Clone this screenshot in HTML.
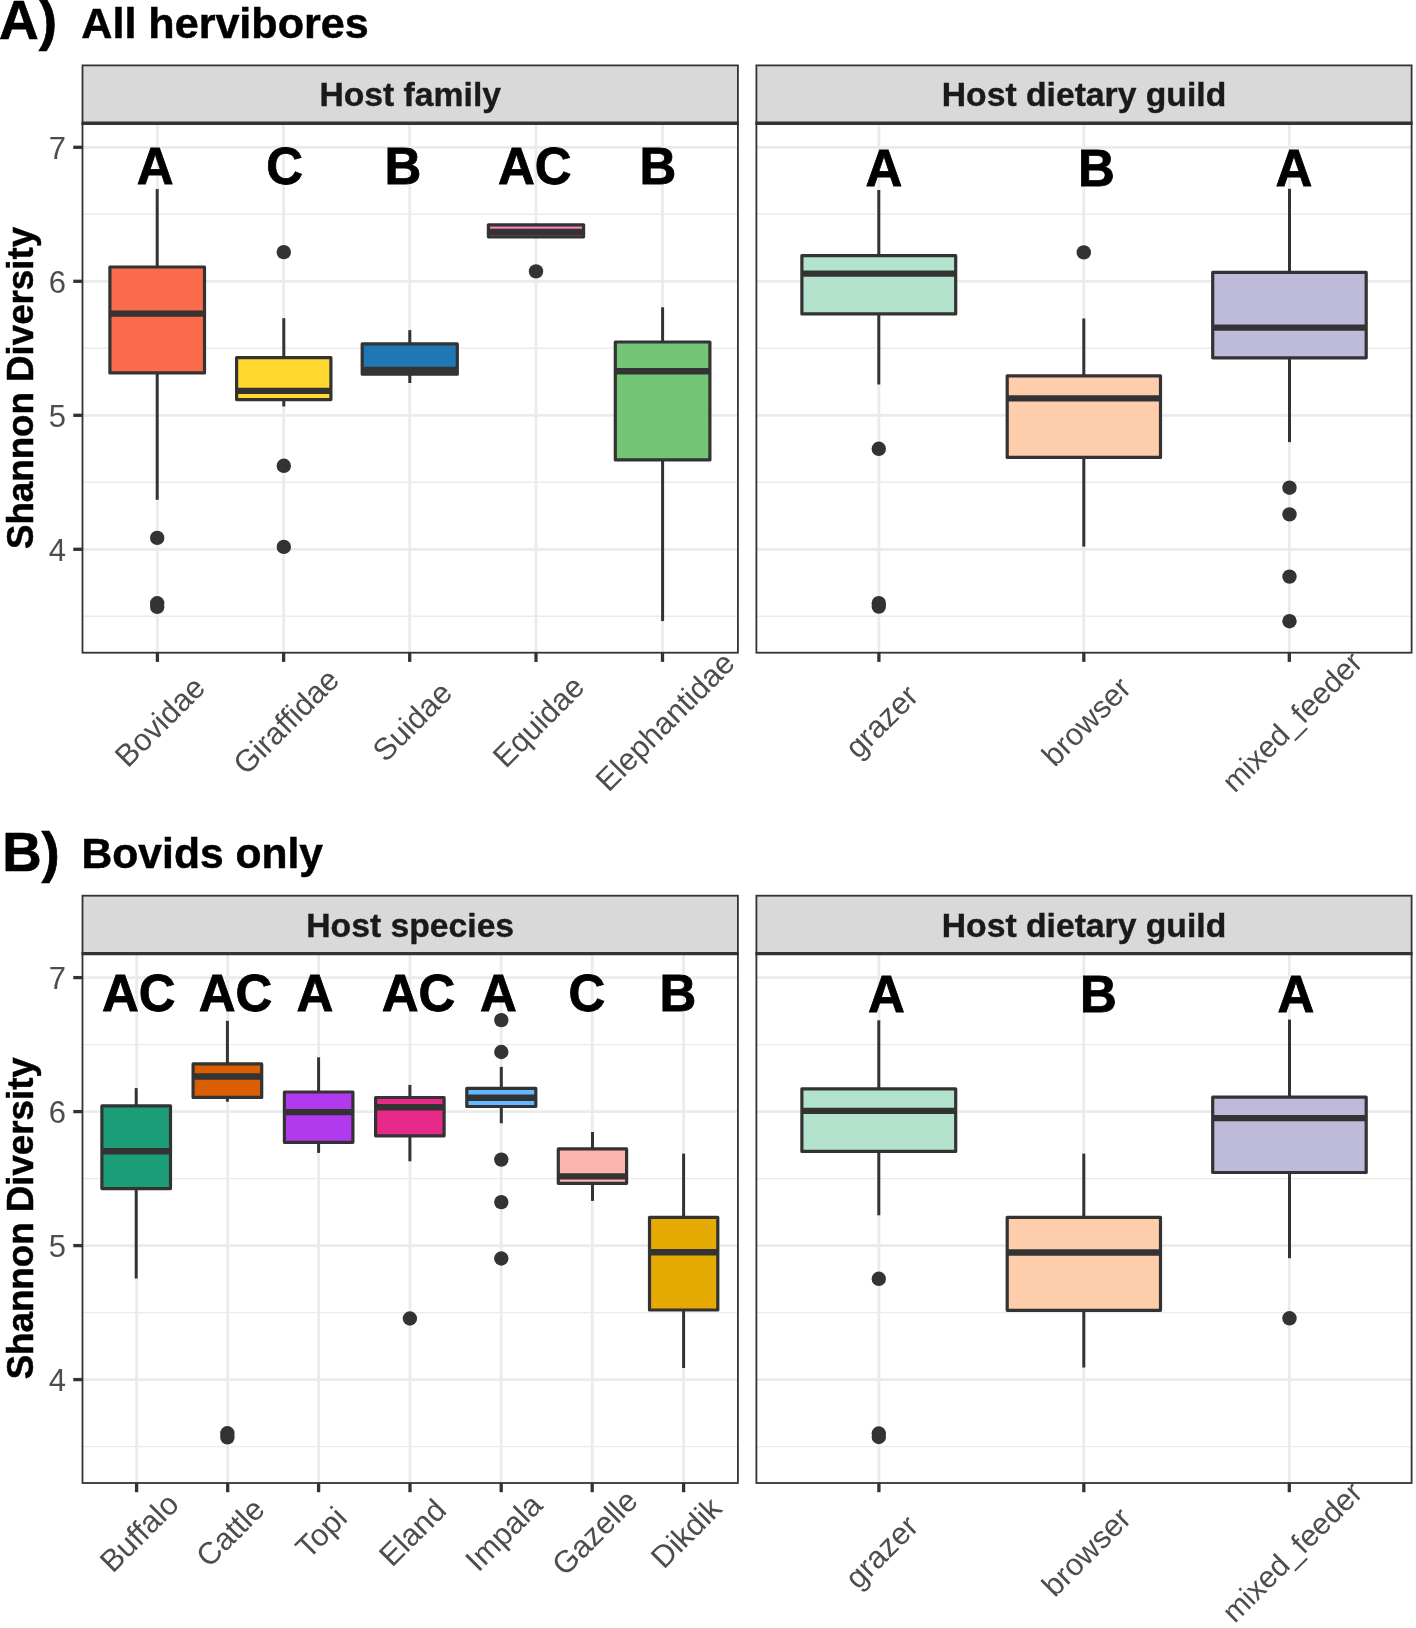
<!DOCTYPE html>
<html lang="en">
<head>
<meta charset="utf-8">
<title>Shannon Diversity boxplots</title>
<style>html,body{margin:0;padding:0;background:#fff}body{width:1416px;height:1628px;overflow:hidden}svg{display:block;will-change:transform}</style>
</head>
<body>
<svg width="1416" height="1628" viewBox="0 0 1416 1628" font-family='"Liberation Sans", sans-serif'>
<rect width="1416" height="1628" fill="#fff"/>
<text x="-1.0" y="38.6" font-size="55" font-weight="bold" fill="#000" stroke="#000" stroke-width="0.7">A)</text>
<text x="81.3" y="38.1" font-size="43.1" font-weight="bold" fill="#000" stroke="#000" stroke-width="0.5">All hervibores</text>
<text x="2.2" y="871.3" font-size="54.6" font-weight="bold" fill="#000" stroke="#000" stroke-width="0.7">B)</text>
<text x="81.6" y="868.2" font-size="42.6" font-weight="bold" fill="#000" stroke="#000" stroke-width="0.5">Bovids only</text>
<text transform="translate(33.2 388.0) rotate(-90)" font-size="36.7" font-weight="bold" fill="#000" stroke="#000" stroke-width="0.5" text-anchor="middle">Shannon Diversity</text>
<text transform="translate(33.2 1218.3) rotate(-90)" font-size="36.7" font-weight="bold" fill="#000" stroke="#000" stroke-width="0.5" text-anchor="middle">Shannon Diversity</text>
<rect x="82.5" y="123.3" width="655.4" height="529.4" fill="#fff"/>
<line x1="82.5" x2="737.9" y1="214.3" y2="214.3" stroke="#ebebeb" stroke-width="1.4"/>
<line x1="82.5" x2="737.9" y1="348.3" y2="348.3" stroke="#ebebeb" stroke-width="1.4"/>
<line x1="82.5" x2="737.9" y1="482.3" y2="482.3" stroke="#ebebeb" stroke-width="1.4"/>
<line x1="82.5" x2="737.9" y1="616.3" y2="616.3" stroke="#ebebeb" stroke-width="1.4"/>
<line x1="82.5" x2="737.9" y1="147.3" y2="147.3" stroke="#ebebeb" stroke-width="2.8"/>
<line x1="82.5" x2="737.9" y1="281.3" y2="281.3" stroke="#ebebeb" stroke-width="2.8"/>
<line x1="82.5" x2="737.9" y1="415.3" y2="415.3" stroke="#ebebeb" stroke-width="2.8"/>
<line x1="82.5" x2="737.9" y1="549.3" y2="549.3" stroke="#ebebeb" stroke-width="2.8"/>
<line x1="157.4" x2="157.4" y1="123.3" y2="652.7" stroke="#ebebeb" stroke-width="2.8"/>
<line x1="283.6" x2="283.6" y1="123.3" y2="652.7" stroke="#ebebeb" stroke-width="2.8"/>
<line x1="409.7" x2="409.7" y1="123.3" y2="652.7" stroke="#ebebeb" stroke-width="2.8"/>
<line x1="536.0" x2="536.0" y1="123.3" y2="652.7" stroke="#ebebeb" stroke-width="2.8"/>
<line x1="662.5" x2="662.5" y1="123.3" y2="652.7" stroke="#ebebeb" stroke-width="2.8"/>
<rect x="756.4" y="123.3" width="655.2" height="529.4" fill="#fff"/>
<line x1="756.4" x2="1411.6" y1="214.3" y2="214.3" stroke="#ebebeb" stroke-width="1.4"/>
<line x1="756.4" x2="1411.6" y1="348.3" y2="348.3" stroke="#ebebeb" stroke-width="1.4"/>
<line x1="756.4" x2="1411.6" y1="482.3" y2="482.3" stroke="#ebebeb" stroke-width="1.4"/>
<line x1="756.4" x2="1411.6" y1="616.3" y2="616.3" stroke="#ebebeb" stroke-width="1.4"/>
<line x1="756.4" x2="1411.6" y1="147.3" y2="147.3" stroke="#ebebeb" stroke-width="2.8"/>
<line x1="756.4" x2="1411.6" y1="281.3" y2="281.3" stroke="#ebebeb" stroke-width="2.8"/>
<line x1="756.4" x2="1411.6" y1="415.3" y2="415.3" stroke="#ebebeb" stroke-width="2.8"/>
<line x1="756.4" x2="1411.6" y1="549.3" y2="549.3" stroke="#ebebeb" stroke-width="2.8"/>
<line x1="878.9" x2="878.9" y1="123.3" y2="652.7" stroke="#ebebeb" stroke-width="2.8"/>
<line x1="1083.8" x2="1083.8" y1="123.3" y2="652.7" stroke="#ebebeb" stroke-width="2.8"/>
<line x1="1289.3" x2="1289.3" y1="123.3" y2="652.7" stroke="#ebebeb" stroke-width="2.8"/>
<circle cx="157.2" cy="537.9" r="7.2" fill="#333333"/>
<circle cx="157.2" cy="603.3" r="7.2" fill="#333333"/>
<circle cx="157.2" cy="606.8" r="7.2" fill="#333333"/>
<line x1="157.2" x2="157.2" y1="189.1" y2="267.0" stroke="#333333" stroke-width="3"/>
<line x1="157.2" x2="157.2" y1="372.9" y2="499.8" stroke="#333333" stroke-width="3"/>
<rect x="109.9" y="267.0" width="94.6" height="105.9" fill="#fb6a4a" stroke="#333333" stroke-width="3.2" stroke-linejoin="round"/>
<line x1="109.9" x2="204.5" y1="313.6" y2="313.6" stroke="#333333" stroke-width="6.4"/>
<circle cx="283.8" cy="252.1" r="7.2" fill="#333333"/>
<circle cx="283.8" cy="465.8" r="7.2" fill="#333333"/>
<circle cx="283.8" cy="546.9" r="7.2" fill="#333333"/>
<line x1="283.8" x2="283.8" y1="318.2" y2="357.6" stroke="#333333" stroke-width="3"/>
<line x1="283.8" x2="283.8" y1="399.6" y2="406.5" stroke="#333333" stroke-width="3"/>
<rect x="236.6" y="357.6" width="94.3" height="42.0" fill="#ffd92f" stroke="#333333" stroke-width="3.2" stroke-linejoin="round"/>
<line x1="236.6" x2="330.9" y1="390.9" y2="390.9" stroke="#333333" stroke-width="6.4"/>
<line x1="409.8" x2="409.8" y1="330.1" y2="343.9" stroke="#333333" stroke-width="3"/>
<line x1="409.8" x2="409.8" y1="374.2" y2="383.0" stroke="#333333" stroke-width="3"/>
<rect x="362.2" y="343.9" width="95.1" height="30.3" fill="#1f78b4" stroke="#333333" stroke-width="3.2" stroke-linejoin="round"/>
<line x1="362.2" x2="457.3" y1="369.9" y2="369.9" stroke="#333333" stroke-width="6.4"/>
<circle cx="536.0" cy="271.4" r="7.2" fill="#333333"/>
<rect x="488.4" y="224.8" width="95.2" height="12.0" fill="#f781bf" stroke="#333333" stroke-width="3.2" stroke-linejoin="round"/>
<line x1="488.4" x2="583.6" y1="232.0" y2="232.0" stroke="#333333" stroke-width="6.4"/>
<line x1="662.6" x2="662.6" y1="307.3" y2="342.0" stroke="#333333" stroke-width="3"/>
<line x1="662.6" x2="662.6" y1="459.9" y2="621.1" stroke="#333333" stroke-width="3"/>
<rect x="615.3" y="342.0" width="94.6" height="117.9" fill="#74c476" stroke="#333333" stroke-width="3.2" stroke-linejoin="round"/>
<line x1="615.3" x2="709.9" y1="371.2" y2="371.2" stroke="#333333" stroke-width="6.4"/>
<circle cx="878.8" cy="448.8" r="7.2" fill="#333333"/>
<circle cx="878.8" cy="603.2" r="7.2" fill="#333333"/>
<circle cx="878.8" cy="606.6" r="7.2" fill="#333333"/>
<line x1="878.8" x2="878.8" y1="190.0" y2="255.6" stroke="#333333" stroke-width="3"/>
<line x1="878.8" x2="878.8" y1="313.9" y2="384.5" stroke="#333333" stroke-width="3"/>
<rect x="801.9" y="255.6" width="153.8" height="58.3" fill="#b3e2cd" stroke="#333333" stroke-width="3.2" stroke-linejoin="round"/>
<line x1="801.9" x2="955.7" y1="273.6" y2="273.6" stroke="#333333" stroke-width="6.4"/>
<circle cx="1083.8" cy="252.4" r="7.2" fill="#333333"/>
<line x1="1083.8" x2="1083.8" y1="318.5" y2="375.9" stroke="#333333" stroke-width="3"/>
<line x1="1083.8" x2="1083.8" y1="457.4" y2="546.6" stroke="#333333" stroke-width="3"/>
<rect x="1007.2" y="375.9" width="153.3" height="81.5" fill="#fdcdac" stroke="#333333" stroke-width="3.2" stroke-linejoin="round"/>
<line x1="1007.2" x2="1160.5" y1="398.4" y2="398.4" stroke="#333333" stroke-width="6.4"/>
<circle cx="1289.5" cy="487.7" r="7.2" fill="#333333"/>
<circle cx="1289.5" cy="514.4" r="7.2" fill="#333333"/>
<circle cx="1289.5" cy="576.6" r="7.2" fill="#333333"/>
<circle cx="1289.5" cy="621.2" r="7.2" fill="#333333"/>
<line x1="1289.5" x2="1289.5" y1="188.8" y2="272.4" stroke="#333333" stroke-width="3"/>
<line x1="1289.5" x2="1289.5" y1="357.8" y2="442.1" stroke="#333333" stroke-width="3"/>
<rect x="1212.7" y="272.4" width="153.5" height="85.4" fill="#bebada" stroke="#333333" stroke-width="3.2" stroke-linejoin="round"/>
<line x1="1212.7" x2="1366.2" y1="327.6" y2="327.6" stroke="#333333" stroke-width="6.4"/>
<text x="155.2" y="183.6" font-size="51" font-weight="bold" fill="#000" stroke="#000" stroke-width="0.8" text-anchor="middle">A</text>
<text x="284.6" y="183.6" font-size="51" font-weight="bold" fill="#000" stroke="#000" stroke-width="0.8" text-anchor="middle">C</text>
<text x="403.0" y="183.6" font-size="51" font-weight="bold" fill="#000" stroke="#000" stroke-width="0.8" text-anchor="middle">B</text>
<text x="534.8" y="183.6" font-size="51" font-weight="bold" fill="#000" stroke="#000" stroke-width="0.8" text-anchor="middle">AC</text>
<text x="657.9" y="183.6" font-size="51" font-weight="bold" fill="#000" stroke="#000" stroke-width="0.8" text-anchor="middle">B</text>
<text x="884.0" y="185.7" font-size="51" font-weight="bold" fill="#000" stroke="#000" stroke-width="0.8" text-anchor="middle">A</text>
<text x="1096.4" y="185.7" font-size="51" font-weight="bold" fill="#000" stroke="#000" stroke-width="0.8" text-anchor="middle">B</text>
<text x="1293.8" y="185.7" font-size="51" font-weight="bold" fill="#000" stroke="#000" stroke-width="0.8" text-anchor="middle">A</text>
<rect x="82.5" y="65.4" width="655.4" height="57.9" fill="#d9d9d9" stroke="#333333" stroke-width="1.8"/>
<text x="410.2" y="106.3" font-size="33.7" font-weight="bold" fill="#1a1a1a" stroke="#1a1a1a" stroke-width="0.4" text-anchor="middle">Host family</text>
<rect x="82.5" y="123.3" width="655.4" height="529.4" fill="none" stroke="#333333" stroke-width="1.8"/>
<line x1="81.6" x2="738.8" y1="123.3" y2="123.3" stroke="#333333" stroke-width="3.4"/>
<line x1="157.4" x2="157.4" y1="652.7" y2="661.9" stroke="#333333" stroke-width="3.3"/>
<line x1="283.6" x2="283.6" y1="652.7" y2="661.9" stroke="#333333" stroke-width="3.3"/>
<line x1="409.7" x2="409.7" y1="652.7" y2="661.9" stroke="#333333" stroke-width="3.3"/>
<line x1="536.0" x2="536.0" y1="652.7" y2="661.9" stroke="#333333" stroke-width="3.3"/>
<line x1="662.5" x2="662.5" y1="652.7" y2="661.9" stroke="#333333" stroke-width="3.3"/>
<line x1="73.3" x2="82.5" y1="147.3" y2="147.3" stroke="#333333" stroke-width="3.3"/>
<text x="66.0" y="158.5" font-size="31" fill="#4d4d4d" text-anchor="end">7</text>
<line x1="73.3" x2="82.5" y1="281.3" y2="281.3" stroke="#333333" stroke-width="3.3"/>
<text x="66.0" y="292.5" font-size="31" fill="#4d4d4d" text-anchor="end">6</text>
<line x1="73.3" x2="82.5" y1="415.3" y2="415.3" stroke="#333333" stroke-width="3.3"/>
<text x="66.0" y="426.5" font-size="31" fill="#4d4d4d" text-anchor="end">5</text>
<line x1="73.3" x2="82.5" y1="549.3" y2="549.3" stroke="#333333" stroke-width="3.3"/>
<text x="66.0" y="560.5" font-size="31" fill="#4d4d4d" text-anchor="end">4</text>
<rect x="756.4" y="65.4" width="655.2" height="57.9" fill="#d9d9d9" stroke="#333333" stroke-width="1.8"/>
<text x="1084.0" y="106.3" font-size="33.7" font-weight="bold" fill="#1a1a1a" stroke="#1a1a1a" stroke-width="0.4" text-anchor="middle">Host dietary guild</text>
<rect x="756.4" y="123.3" width="655.2" height="529.4" fill="none" stroke="#333333" stroke-width="1.8"/>
<line x1="755.5" x2="1412.5" y1="123.3" y2="123.3" stroke="#333333" stroke-width="3.4"/>
<line x1="878.9" x2="878.9" y1="652.7" y2="661.9" stroke="#333333" stroke-width="3.3"/>
<line x1="1083.8" x2="1083.8" y1="652.7" y2="661.9" stroke="#333333" stroke-width="3.3"/>
<line x1="1289.3" x2="1289.3" y1="652.7" y2="661.9" stroke="#333333" stroke-width="3.3"/>
<text transform="translate(159.8 721.4) rotate(-45)" font-size="31" fill="#4d4d4d" text-anchor="middle" dy="10.8">Bovidae</text>
<text transform="translate(286.0 721.4) rotate(-45)" font-size="31" fill="#4d4d4d" text-anchor="middle" dy="10.8">Giraffidae</text>
<text transform="translate(412.1 721.4) rotate(-45)" font-size="31" fill="#4d4d4d" text-anchor="middle" dy="10.8">Suidae</text>
<text transform="translate(538.4 721.4) rotate(-45)" font-size="31" fill="#4d4d4d" text-anchor="middle" dy="10.8">Equidae</text>
<text transform="translate(664.9 721.4) rotate(-45)" font-size="31" fill="#4d4d4d" text-anchor="middle" dy="10.8">Elephantidae</text>
<text transform="translate(881.3 721.4) rotate(-45)" font-size="31" fill="#4d4d4d" text-anchor="middle" dy="10.8">grazer</text>
<text transform="translate(1086.2 721.4) rotate(-45)" font-size="31" fill="#4d4d4d" text-anchor="middle" dy="10.8">browser</text>
<text transform="translate(1291.7 721.4) rotate(-45)" font-size="30.2" fill="#4d4d4d" text-anchor="middle" dy="10.8">mixed_feeder</text>
<rect x="82.5" y="953.5999999999999" width="655.4" height="529.4" fill="#fff"/>
<line x1="82.5" x2="737.9" y1="1044.6" y2="1044.6" stroke="#ebebeb" stroke-width="1.4"/>
<line x1="82.5" x2="737.9" y1="1178.6" y2="1178.6" stroke="#ebebeb" stroke-width="1.4"/>
<line x1="82.5" x2="737.9" y1="1312.6" y2="1312.6" stroke="#ebebeb" stroke-width="1.4"/>
<line x1="82.5" x2="737.9" y1="1446.6" y2="1446.6" stroke="#ebebeb" stroke-width="1.4"/>
<line x1="82.5" x2="737.9" y1="977.6" y2="977.6" stroke="#ebebeb" stroke-width="2.8"/>
<line x1="82.5" x2="737.9" y1="1111.6" y2="1111.6" stroke="#ebebeb" stroke-width="2.8"/>
<line x1="82.5" x2="737.9" y1="1245.6" y2="1245.6" stroke="#ebebeb" stroke-width="2.8"/>
<line x1="82.5" x2="737.9" y1="1379.6" y2="1379.6" stroke="#ebebeb" stroke-width="2.8"/>
<line x1="136.6" x2="136.6" y1="953.5999999999999" y2="1483.0" stroke="#ebebeb" stroke-width="2.8"/>
<line x1="227.7" x2="227.7" y1="953.5999999999999" y2="1483.0" stroke="#ebebeb" stroke-width="2.8"/>
<line x1="318.6" x2="318.6" y1="953.5999999999999" y2="1483.0" stroke="#ebebeb" stroke-width="2.8"/>
<line x1="410.0" x2="410.0" y1="953.5999999999999" y2="1483.0" stroke="#ebebeb" stroke-width="2.8"/>
<line x1="501.2" x2="501.2" y1="953.5999999999999" y2="1483.0" stroke="#ebebeb" stroke-width="2.8"/>
<line x1="592.2" x2="592.2" y1="953.5999999999999" y2="1483.0" stroke="#ebebeb" stroke-width="2.8"/>
<line x1="683.6" x2="683.6" y1="953.5999999999999" y2="1483.0" stroke="#ebebeb" stroke-width="2.8"/>
<rect x="756.4" y="953.5999999999999" width="655.2" height="529.4" fill="#fff"/>
<line x1="756.4" x2="1411.6" y1="1044.6" y2="1044.6" stroke="#ebebeb" stroke-width="1.4"/>
<line x1="756.4" x2="1411.6" y1="1178.6" y2="1178.6" stroke="#ebebeb" stroke-width="1.4"/>
<line x1="756.4" x2="1411.6" y1="1312.6" y2="1312.6" stroke="#ebebeb" stroke-width="1.4"/>
<line x1="756.4" x2="1411.6" y1="1446.6" y2="1446.6" stroke="#ebebeb" stroke-width="1.4"/>
<line x1="756.4" x2="1411.6" y1="977.6" y2="977.6" stroke="#ebebeb" stroke-width="2.8"/>
<line x1="756.4" x2="1411.6" y1="1111.6" y2="1111.6" stroke="#ebebeb" stroke-width="2.8"/>
<line x1="756.4" x2="1411.6" y1="1245.6" y2="1245.6" stroke="#ebebeb" stroke-width="2.8"/>
<line x1="756.4" x2="1411.6" y1="1379.6" y2="1379.6" stroke="#ebebeb" stroke-width="2.8"/>
<line x1="878.9" x2="878.9" y1="953.5999999999999" y2="1483.0" stroke="#ebebeb" stroke-width="2.8"/>
<line x1="1083.8" x2="1083.8" y1="953.5999999999999" y2="1483.0" stroke="#ebebeb" stroke-width="2.8"/>
<line x1="1289.3" x2="1289.3" y1="953.5999999999999" y2="1483.0" stroke="#ebebeb" stroke-width="2.8"/>
<line x1="136.2" x2="136.2" y1="1088.1" y2="1105.9" stroke="#333333" stroke-width="3"/>
<line x1="136.2" x2="136.2" y1="1188.6" y2="1278.5" stroke="#333333" stroke-width="3"/>
<rect x="101.9" y="1105.9" width="68.6" height="82.7" fill="#1b9e77" stroke="#333333" stroke-width="3.2" stroke-linejoin="round"/>
<line x1="101.9" x2="170.5" y1="1151.2" y2="1151.2" stroke="#333333" stroke-width="6.4"/>
<circle cx="227.4" cy="1433.3" r="7.2" fill="#333333"/>
<circle cx="227.4" cy="1437.3" r="7.2" fill="#333333"/>
<line x1="227.4" x2="227.4" y1="1020.8" y2="1063.9" stroke="#333333" stroke-width="3"/>
<line x1="227.4" x2="227.4" y1="1097.4" y2="1101.7" stroke="#333333" stroke-width="3"/>
<rect x="193.1" y="1063.9" width="68.6" height="33.5" fill="#d95f02" stroke="#333333" stroke-width="3.2" stroke-linejoin="round"/>
<line x1="193.1" x2="261.7" y1="1076.5" y2="1076.5" stroke="#333333" stroke-width="6.4"/>
<line x1="318.6" x2="318.6" y1="1057.3" y2="1092.0" stroke="#333333" stroke-width="3"/>
<line x1="318.6" x2="318.6" y1="1142.3" y2="1152.9" stroke="#333333" stroke-width="3"/>
<rect x="284.4" y="1092.0" width="68.5" height="50.3" fill="#b23aee" stroke="#333333" stroke-width="3.2" stroke-linejoin="round"/>
<line x1="284.4" x2="352.9" y1="1112.1" y2="1112.1" stroke="#333333" stroke-width="6.4"/>
<circle cx="409.9" cy="1318.5" r="7.2" fill="#333333"/>
<line x1="409.9" x2="409.9" y1="1084.9" y2="1097.5" stroke="#333333" stroke-width="3"/>
<line x1="409.9" x2="409.9" y1="1135.8" y2="1161.3" stroke="#333333" stroke-width="3"/>
<rect x="375.6" y="1097.5" width="68.5" height="38.3" fill="#e7298a" stroke="#333333" stroke-width="3.2" stroke-linejoin="round"/>
<line x1="375.6" x2="444.1" y1="1107.3" y2="1107.3" stroke="#333333" stroke-width="6.4"/>
<circle cx="501.3" cy="1020.1" r="7.2" fill="#333333"/>
<circle cx="501.3" cy="1052.0" r="7.2" fill="#333333"/>
<circle cx="501.3" cy="1159.6" r="7.2" fill="#333333"/>
<circle cx="501.3" cy="1202.1" r="7.2" fill="#333333"/>
<circle cx="501.3" cy="1258.5" r="7.2" fill="#333333"/>
<line x1="501.3" x2="501.3" y1="1066.9" y2="1088.4" stroke="#333333" stroke-width="3"/>
<line x1="501.3" x2="501.3" y1="1106.5" y2="1123.3" stroke="#333333" stroke-width="3"/>
<rect x="466.8" y="1088.4" width="69.0" height="18.1" fill="#63b8ff" stroke="#333333" stroke-width="3.2" stroke-linejoin="round"/>
<line x1="466.8" x2="535.8" y1="1097.7" y2="1097.7" stroke="#333333" stroke-width="6.4"/>
<line x1="592.5" x2="592.5" y1="1132.0" y2="1148.9" stroke="#333333" stroke-width="3"/>
<line x1="592.5" x2="592.5" y1="1183.3" y2="1200.9" stroke="#333333" stroke-width="3"/>
<rect x="558.3" y="1148.9" width="68.3" height="34.4" fill="#fbb4ae" stroke="#333333" stroke-width="3.2" stroke-linejoin="round"/>
<line x1="558.3" x2="626.6" y1="1176.4" y2="1176.4" stroke="#333333" stroke-width="6.4"/>
<line x1="683.6" x2="683.6" y1="1153.6" y2="1217.3" stroke="#333333" stroke-width="3"/>
<line x1="683.6" x2="683.6" y1="1310.0" y2="1368.0" stroke="#333333" stroke-width="3"/>
<rect x="649.5" y="1217.3" width="68.3" height="92.7" fill="#e6ab02" stroke="#333333" stroke-width="3.2" stroke-linejoin="round"/>
<line x1="649.5" x2="717.8" y1="1252.2" y2="1252.2" stroke="#333333" stroke-width="6.4"/>
<circle cx="878.8" cy="1278.8" r="7.2" fill="#333333"/>
<circle cx="878.8" cy="1433.5" r="7.2" fill="#333333"/>
<circle cx="878.8" cy="1437.0" r="7.2" fill="#333333"/>
<line x1="878.8" x2="878.8" y1="1020.3" y2="1088.8" stroke="#333333" stroke-width="3"/>
<line x1="878.8" x2="878.8" y1="1151.4" y2="1215.3" stroke="#333333" stroke-width="3"/>
<rect x="801.9" y="1088.8" width="153.8" height="62.6" fill="#b3e2cd" stroke="#333333" stroke-width="3.2" stroke-linejoin="round"/>
<line x1="801.9" x2="955.7" y1="1110.9" y2="1110.9" stroke="#333333" stroke-width="6.4"/>
<line x1="1083.8" x2="1083.8" y1="1153.6" y2="1217.3" stroke="#333333" stroke-width="3"/>
<line x1="1083.8" x2="1083.8" y1="1310.3" y2="1367.5" stroke="#333333" stroke-width="3"/>
<rect x="1007.2" y="1217.3" width="153.3" height="93.0" fill="#fdcdac" stroke="#333333" stroke-width="3.2" stroke-linejoin="round"/>
<line x1="1007.2" x2="1160.5" y1="1252.5" y2="1252.5" stroke="#333333" stroke-width="6.4"/>
<circle cx="1289.5" cy="1318.3" r="7.2" fill="#333333"/>
<line x1="1289.5" x2="1289.5" y1="1019.6" y2="1097.2" stroke="#333333" stroke-width="3"/>
<line x1="1289.5" x2="1289.5" y1="1172.5" y2="1258.2" stroke="#333333" stroke-width="3"/>
<rect x="1212.7" y="1097.2" width="153.5" height="75.3" fill="#bebada" stroke="#333333" stroke-width="3.2" stroke-linejoin="round"/>
<line x1="1212.7" x2="1366.2" y1="1118.1" y2="1118.1" stroke="#333333" stroke-width="6.4"/>
<text x="138.8" y="1011.2" font-size="51" font-weight="bold" fill="#000" stroke="#000" stroke-width="0.8" text-anchor="middle">AC</text>
<text x="235.6" y="1011.2" font-size="51" font-weight="bold" fill="#000" stroke="#000" stroke-width="0.8" text-anchor="middle">AC</text>
<text x="315.0" y="1011.2" font-size="51" font-weight="bold" fill="#000" stroke="#000" stroke-width="0.8" text-anchor="middle">A</text>
<text x="418.5" y="1011.2" font-size="51" font-weight="bold" fill="#000" stroke="#000" stroke-width="0.8" text-anchor="middle">AC</text>
<text x="498.4" y="1011.2" font-size="51" font-weight="bold" fill="#000" stroke="#000" stroke-width="0.8" text-anchor="middle">A</text>
<text x="587.0" y="1011.2" font-size="51" font-weight="bold" fill="#000" stroke="#000" stroke-width="0.8" text-anchor="middle">C</text>
<text x="677.9" y="1011.2" font-size="51" font-weight="bold" fill="#000" stroke="#000" stroke-width="0.8" text-anchor="middle">B</text>
<text x="886.4" y="1012.0" font-size="51" font-weight="bold" fill="#000" stroke="#000" stroke-width="0.8" text-anchor="middle">A</text>
<text x="1098.5" y="1012.0" font-size="51" font-weight="bold" fill="#000" stroke="#000" stroke-width="0.8" text-anchor="middle">B</text>
<text x="1296.0" y="1012.0" font-size="51" font-weight="bold" fill="#000" stroke="#000" stroke-width="0.8" text-anchor="middle">A</text>
<rect x="82.5" y="895.6999999999999" width="655.4" height="57.9" fill="#d9d9d9" stroke="#333333" stroke-width="1.8"/>
<text x="410.2" y="936.6" font-size="33.7" font-weight="bold" fill="#1a1a1a" stroke="#1a1a1a" stroke-width="0.4" text-anchor="middle">Host species</text>
<rect x="82.5" y="953.5999999999999" width="655.4" height="529.4" fill="none" stroke="#333333" stroke-width="1.8"/>
<line x1="81.6" x2="738.8" y1="953.6" y2="953.6" stroke="#333333" stroke-width="3.4"/>
<line x1="136.6" x2="136.6" y1="1483.0" y2="1492.2" stroke="#333333" stroke-width="3.3"/>
<line x1="227.7" x2="227.7" y1="1483.0" y2="1492.2" stroke="#333333" stroke-width="3.3"/>
<line x1="318.6" x2="318.6" y1="1483.0" y2="1492.2" stroke="#333333" stroke-width="3.3"/>
<line x1="410.0" x2="410.0" y1="1483.0" y2="1492.2" stroke="#333333" stroke-width="3.3"/>
<line x1="501.2" x2="501.2" y1="1483.0" y2="1492.2" stroke="#333333" stroke-width="3.3"/>
<line x1="592.2" x2="592.2" y1="1483.0" y2="1492.2" stroke="#333333" stroke-width="3.3"/>
<line x1="683.6" x2="683.6" y1="1483.0" y2="1492.2" stroke="#333333" stroke-width="3.3"/>
<line x1="73.3" x2="82.5" y1="977.6" y2="977.6" stroke="#333333" stroke-width="3.3"/>
<text x="66.0" y="988.8" font-size="31" fill="#4d4d4d" text-anchor="end">7</text>
<line x1="73.3" x2="82.5" y1="1111.6" y2="1111.6" stroke="#333333" stroke-width="3.3"/>
<text x="66.0" y="1122.8" font-size="31" fill="#4d4d4d" text-anchor="end">6</text>
<line x1="73.3" x2="82.5" y1="1245.6" y2="1245.6" stroke="#333333" stroke-width="3.3"/>
<text x="66.0" y="1256.8" font-size="31" fill="#4d4d4d" text-anchor="end">5</text>
<line x1="73.3" x2="82.5" y1="1379.6" y2="1379.6" stroke="#333333" stroke-width="3.3"/>
<text x="66.0" y="1390.8" font-size="31" fill="#4d4d4d" text-anchor="end">4</text>
<rect x="756.4" y="895.6999999999999" width="655.2" height="57.9" fill="#d9d9d9" stroke="#333333" stroke-width="1.8"/>
<text x="1084.0" y="936.6" font-size="33.7" font-weight="bold" fill="#1a1a1a" stroke="#1a1a1a" stroke-width="0.4" text-anchor="middle">Host dietary guild</text>
<rect x="756.4" y="953.5999999999999" width="655.2" height="529.4" fill="none" stroke="#333333" stroke-width="1.8"/>
<line x1="755.5" x2="1412.5" y1="953.6" y2="953.6" stroke="#333333" stroke-width="3.4"/>
<line x1="878.9" x2="878.9" y1="1483.0" y2="1492.2" stroke="#333333" stroke-width="3.3"/>
<line x1="1083.8" x2="1083.8" y1="1483.0" y2="1492.2" stroke="#333333" stroke-width="3.3"/>
<line x1="1289.3" x2="1289.3" y1="1483.0" y2="1492.2" stroke="#333333" stroke-width="3.3"/>
<text transform="translate(139.0 1532.4) rotate(-45)" font-size="31" fill="#4d4d4d" text-anchor="middle" dy="10.8">Buffalo</text>
<text transform="translate(230.1 1532.4) rotate(-45)" font-size="31" fill="#4d4d4d" text-anchor="middle" dy="10.8">Cattle</text>
<text transform="translate(321.0 1532.4) rotate(-45)" font-size="31" fill="#4d4d4d" text-anchor="middle" dy="10.8">Topi</text>
<text transform="translate(412.4 1532.4) rotate(-45)" font-size="31" fill="#4d4d4d" text-anchor="middle" dy="10.8">Eland</text>
<text transform="translate(503.6 1532.4) rotate(-45)" font-size="31" fill="#4d4d4d" text-anchor="middle" dy="10.8">Impala</text>
<text transform="translate(594.6 1532.4) rotate(-45)" font-size="31" fill="#4d4d4d" text-anchor="middle" dy="10.8">Gazelle</text>
<text transform="translate(686.0 1532.4) rotate(-45)" font-size="31" fill="#4d4d4d" text-anchor="middle" dy="10.8">Dikdik</text>
<text transform="translate(881.3 1551.7) rotate(-45)" font-size="31" fill="#4d4d4d" text-anchor="middle" dy="10.8">grazer</text>
<text transform="translate(1086.2 1551.7) rotate(-45)" font-size="31" fill="#4d4d4d" text-anchor="middle" dy="10.8">browser</text>
<text transform="translate(1291.7 1551.7) rotate(-45)" font-size="30.2" fill="#4d4d4d" text-anchor="middle" dy="10.8">mixed_feeder</text>
</svg>
</body>
</html>
